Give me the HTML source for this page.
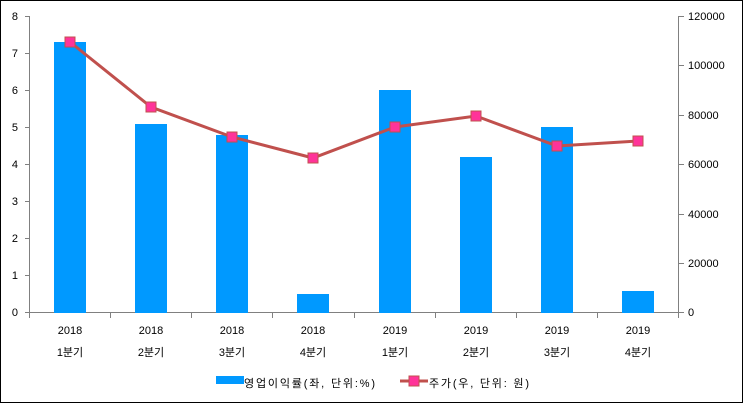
<!DOCTYPE html><html><head><style>body{margin:0}svg{display:block}text{font-family:"Liberation Sans","Noto Sans CJK KR",sans-serif;font-size:11px;fill:#000}</style></head><body>
<svg width="743" height="403" xmlns="http://www.w3.org/2000/svg">
<rect x="0.5" y="0.5" width="742" height="402" fill="#fff" stroke="#000"/>
<g stroke="#808080" stroke-width="1">
<line x1="29.5" y1="16" x2="29.5" y2="313"/>
<line x1="678.5" y1="16" x2="678.5" y2="313"/>
<line x1="29" y1="312.5" x2="679" y2="312.5"/>
<path d="M25 16.5h4M25 53.5h4M25 90.5h4M25 127.5h4M25 164.5h4M25 201.5h4M25 238.5h4M25 275.5h4M25 312.5h4"/>
<path d="M679 16.5h5M679 65.5h5M679 115.5h5M679 164.5h5M679 214.5h5M679 263.5h5M679 312.5h5"/>
<path d="M29.5 313v5M110.5 313v5M191.5 313v5M272.5 313v5M354.5 313v5M435.5 313v5M516.5 313v5M597.5 313v5M678.5 313v5"/>
</g>
<g text-anchor="end"><text x="18" y="20">8</text><text x="18" y="57">7</text><text x="18" y="94">6</text><text x="18" y="131">5</text><text x="18" y="168">4</text><text x="18" y="205">3</text><text x="18" y="242">2</text><text x="18" y="279">1</text><text x="18" y="316">0</text></g>
<g><text x="688" y="20">120000</text><text x="688" y="69">100000</text><text x="688" y="119">80000</text><text x="688" y="168">60000</text><text x="688" y="218">40000</text><text x="688" y="267">20000</text><text x="688" y="316">0</text></g>
<g fill="#0099ff">
<rect x="54" y="42" width="32" height="271"/><rect x="135" y="124" width="32" height="189"/><rect x="216" y="135" width="32" height="178"/><rect x="297" y="294" width="32" height="19"/><rect x="379" y="90" width="32" height="223"/><rect x="460" y="157" width="32" height="156"/><rect x="541" y="127" width="32" height="186"/><rect x="622" y="291" width="32" height="22"/>
</g>
<polyline points="70,42 151,107 232,137 313,158 395,127 476,116 557,146 638,141" fill="none" stroke="#c0504d" stroke-width="3"/>
<g fill="#ff3399" stroke="#c0504d" stroke-width="1">
<rect x="65" y="37" width="10" height="10"/><rect x="146" y="102" width="10" height="10"/><rect x="227" y="132" width="10" height="10"/><rect x="308" y="153" width="10" height="10"/><rect x="390" y="122" width="10" height="10"/><rect x="471" y="111" width="10" height="10"/><rect x="552" y="141" width="10" height="10"/><rect x="633" y="136" width="10" height="10"/>
</g>
<g text-anchor="middle">
<text x="70" y="334">2018</text><text x="151" y="334">2018</text><text x="232" y="334">2018</text><text x="313" y="334">2018</text><text x="395" y="334">2019</text><text x="476" y="334">2019</text><text x="557" y="334">2019</text><text x="638" y="334">2019</text>
<text x="70" y="356" font-size="13">1분기</text><text x="151" y="356" font-size="13">2분기</text><text x="232" y="356" font-size="13">3분기</text><text x="313" y="356" font-size="13">4분기</text><text x="395" y="356" font-size="13">1분기</text><text x="476" y="356" font-size="13">2분기</text><text x="557" y="356" font-size="13">3분기</text><text x="638" y="356" font-size="13">4분기</text>
</g>
<rect x="216" y="376" width="28" height="8" fill="#0099ff"/>
<text x="244" y="387" font-size="13" textLength="131">영업이익률(좌, 단위:%)</text>
<line x1="400" y1="381" x2="428" y2="381" stroke="#c0504d" stroke-width="3"/>
<rect x="409" y="376" width="10" height="10" fill="#ff3399" stroke="#c0504d"/>
<text x="429" y="387" font-size="13" textLength="100">주가(우, 단위: 원)</text>
</svg>
</body></html>
